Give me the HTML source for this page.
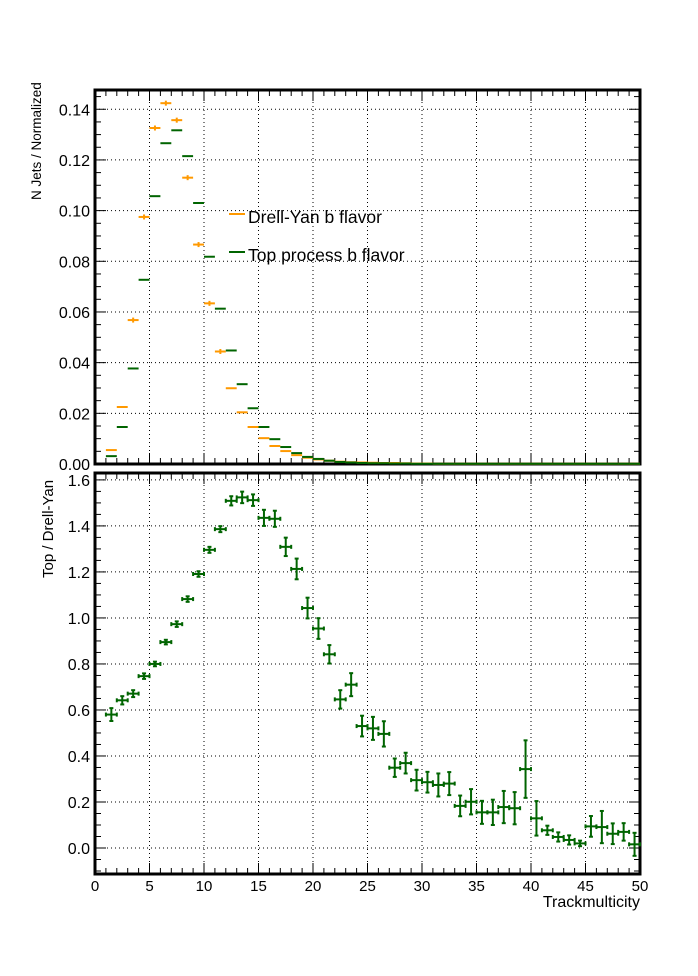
<!DOCTYPE html>
<html><head><meta charset="utf-8"><style>
html,body{margin:0;padding:0;background:#fff;}
svg{display:block;font-family:"Liberation Sans",sans-serif;}
</style></head><body>
<svg id="c" width="698" height="976"></svg>
<script>
// ---- data ----
const binCenters = [];
for (let i = 1; i <= 49; i++) binCenters.push(i + 0.5);
const dyValues = [0.0055,0.0225,0.0568,0.0975,0.1326,0.1424,0.1357,0.113,0.0866,0.0634,0.0444,0.0299,0.0204,0.0146,0.0102,0.0071,0.0051,0.0035,0.0025,0.0018,0.0013,0.0009,0.0007,0.0006,0.0005,0.0004,0.0004,0.0003,0.0002,0.0002,0.0001,0.0001,0.0001,0.0001,0.0001,0.0001,0.0001,0.0001,0.0001,0.0001,0.0001,0.0001,0.0001,0.0001,0.0001,0.0001,0.0001,0.0001,0.0001];
const topValues = [0.0031,0.0146,0.0377,0.0727,0.1057,0.1266,0.1317,0.1215,0.103,0.0818,0.0613,0.0448,0.0315,0.022,0.0146,0.0098,0.0067,0.0043,0.0028,0.002,0.0013,0.0008,0.0006,0.0004,0.0003,0.0003,0.0002,0.0002,0.0001,0.0001,0.0001,0.0001,0.0001,0.0001,0.0001,0.0001,0.0001,0.0001,0.0001,0.0001,0.0001,0.0001,0.0001,0.0001,0.0001,0.0001,0.0001,0.0001,0.0001];
const ratioValues = [0.58,0.642,0.671,0.747,0.8,0.895,0.973,1.082,1.191,1.296,1.386,1.509,1.524,1.512,1.435,1.431,1.309,1.213,1.043,0.954,0.842,0.646,0.71,0.53,0.52,0.496,0.349,0.369,0.295,0.286,0.274,0.28,0.183,0.201,0.155,0.155,0.178,0.173,0.343,0.129,0.077,0.048,0.035,0.02,0.094,0.091,0.062,0.07,0.016];
const ratioErrors = [0.028,0.018,0.015,0.012,0.01,0.01,0.012,0.012,0.012,0.013,0.013,0.02,0.025,0.025,0.035,0.035,0.04,0.045,0.045,0.045,0.04,0.04,0.05,0.045,0.05,0.055,0.04,0.045,0.045,0.045,0.05,0.05,0.045,0.055,0.05,0.055,0.07,0.07,0.125,0.075,0.02,0.02,0.02,0.012,0.045,0.07,0.045,0.038,0.05];
const xTicks = [0,5,10,15,20,25,30,35,40,45,50];
const topYTicks = ["0.00","0.02","0.04","0.06","0.08","0.10","0.12","0.14"];
const botYTicks = ["0.0","0.2","0.4","0.6","0.8","1.0","1.2","1.4","1.6"];

// ---- layout ----
const NS = "http://www.w3.org/2000/svg";
const svg = document.getElementById('c');
const X0 = 95, X1 = 640;
const T = {top: 90, bot: 464, ymin: 0, ymax: 0.1476};
const B = {top: 473, bot: 874, ymin: -0.113, ymax: 1.63};
const xs = v => X0 + (v - 0) / 50 * (X1 - X0);
const yT = v => T.bot - (v - T.ymin) / (T.ymax - T.ymin) * (T.bot - T.top);
const yB = v => B.bot - (v - B.ymin) / (B.ymax - B.ymin) * (B.bot - B.top);
function mk(tag, attrs, parent) {
  const e = document.createElementNS(NS, tag);
  for (const k in attrs) e.setAttribute(k, attrs[k]);
  (parent || svg).appendChild(e);
  return e;
}
function group(name) {
  const g = document.createElementNS(NS, 'g');
  
  
  svg.appendChild(g);
  return g;
}

function panel(P, yf, yTickLabels, minorStep, name) {
  const g = group(name);
  xTicks.forEach(t => {
    if (t === 0 || t === 50) return;
    const l = mk('line', {x1: xs(t), x2: xs(t), y1: P.top, y2: P.bot, stroke: '#000', 'stroke-width': 1, 'stroke-dasharray': '1,3'}, g);
    
    
  });
  yTickLabels.forEach(s => {
    const v = parseFloat(s);
    const y = yf(v);
    const l = mk('line', {x1: X0, x2: X1, y1: y, y2: y, stroke: '#000', 'stroke-width': 1, 'stroke-dasharray': '1,3'}, g);
    
    
  });
  for (let v = 0; v <= 50; v++) {
    const major = v % 5 === 0;
    const len = major ? 11 : 6;
    mk('line', {x1: xs(v), x2: xs(v), y1: P.bot, y2: P.bot - len, stroke: '#000', 'stroke-width': 1}, g);
    mk('line', {x1: xs(v), x2: xs(v), y1: P.top, y2: P.top + len, stroke: '#000', 'stroke-width': 1}, g);
  }
  const first = parseFloat(yTickLabels[0]);
  for (let v = first - 10 * minorStep; v <= P.ymax + 1e-9; v += minorStep) {
    if (v < P.ymin - 1e-9) continue;
    const k = Math.round((v - first) / minorStep);
    const major = k % 4 === 0;
    const len = major ? 11 : 6;
    const y = yf(v);
    mk('line', {x1: X0, x2: X0 + len, y1: y, y2: y, stroke: '#000', 'stroke-width': 1}, g);
    mk('line', {x1: X1, x2: X1 - len, y1: y, y2: y, stroke: '#000', 'stroke-width': 1}, g);
  }
  yTickLabels.forEach(s => {
    const t = mk('text', {x: 90, y: yf(parseFloat(s)) + 6, 'text-anchor': 'end', 'font-size': 16}, g);
    t.textContent = s;
    
    
  });
  const f = mk('rect', {x: X0, y: P.top, width: X1 - X0, height: P.bot - P.top, fill: 'none', stroke: '#000', 'stroke-width': 3}, g);
  
  
}
panel(T, yT, topYTicks, 0.005, 'top-panel');
panel(B, yB, botYTicks, 0.05, 'ratio-panel');

const gDY = group('drell-yan-series');
const gTop = group('top-series');
binCenters.forEach((c, i) => {
  let l = mk('line', {x1: xs(c - 0.5), x2: xs(c + 0.5), y1: yT(topValues[i]), y2: yT(topValues[i]), stroke: '#006400', 'stroke-width': 2}, gTop);
  
  
});
binCenters.forEach((c, i) => {
  const y = yT(dyValues[i]);
  let l = mk('line', {x1: xs(c - 0.5), x2: xs(c + 0.5), y1: y, y2: y, stroke: '#ff9900', 'stroke-width': 2}, gDY);
  
  
  if (dyValues[i] > 0.03) mk('line', {x1: xs(c), x2: xs(c), y1: y - 2.5, y2: y + 2.5, stroke: '#ff9900', 'stroke-width': 2}, gDY);
});

const gR = group('ratio-series');
binCenters.forEach((c, i) => {
  const y = yB(ratioValues[i]);
  const y1 = yB(ratioValues[i] + ratioErrors[i]), y2 = yB(ratioValues[i] - ratioErrors[i]);
  const xa = xs(c - 0.5), xb = xs(c + 0.5), xc = xs(c);
  const p = mk('g', {stroke: '#006400', 'stroke-width': 2}, gR);
  
  
  mk('line', {x1: xa, x2: xb, y1: y, y2: y}, p);
  mk('line', {x1: xc, x2: xc, y1: y1, y2: y2}, p);
  mk('line', {x1: xa, x2: xa, y1: y - 2, y2: y + 2}, p);
  mk('line', {x1: xb, x2: xb, y1: y - 2, y2: y + 2}, p);
  mk('line', {x1: xc - 2, x2: xc + 2, y1: y1, y2: y1}, p);
  mk('line', {x1: xc - 2, x2: xc + 2, y1: y2, y2: y2}, p);
});

const gX = group('x-axis-labels');
xTicks.forEach(t => {
  const e = mk('text', {x: xs(t), y: 891, 'text-anchor': 'middle', 'font-size': 15}, gX);
  e.textContent = t;
  
  
});
</script>
<div style="position:absolute;left:0;top:0;width:698px;height:976px;pointer-events:none">
<svg width="698" height="976" style="position:absolute;left:0;top:0">
  <g>
    <line x1="229" x2="245" y1="214" y2="214" stroke="#ff9900" stroke-width="2"/>
    <text x="248" y="223" font-size="17.5">Drell-Yan b flavor</text>
    <line x1="229" x2="245" y1="252" y2="252" stroke="#006400" stroke-width="2"/>
    <text x="248" y="261" font-size="17.5">Top process b flavor</text>
  </g>
  <text transform="translate(41,200) rotate(-90)" font-size="13.5">N Jets / Normalized</text>
  <text transform="translate(53,578) rotate(-90)" font-size="15">Top / Drell-Yan</text>
  <text x="640" y="907" text-anchor="end" font-size="16">Trackmulticity</text>
</svg>
</div>
</body></html>
